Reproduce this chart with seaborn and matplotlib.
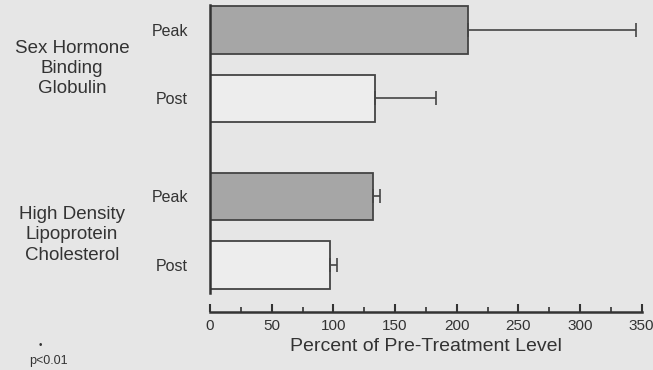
import numpy as np
import pandas as pd
import matplotlib
matplotlib.use("Agg")
import matplotlib.pyplot as plt
from matplotlib.ticker import MultipleLocator
import seaborn as sns

groups = ["Sex Hormone\nBinding\nGlobulin", "High Density\nLipoprotein\nCholesterol"]
phases = ["Peak", "Post"]
means = [209, 134, 132, 97]   # SHBG peak, SHBG post, HDL peak, HDL post
errs = [136, 49, 6, 6]

sns.set_style("ticks")
plt.rcParams["font.family"] = ["Liberation Sans", "DejaVu Sans"]

bg = "#e6e6e6"
ink = "#333333"
group_step = 2.43
pos = [g * group_step + i for g in range(len(groups)) for i in range(len(phases))]
df = pd.DataFrame({
    "pos": pos,
    "pct": means,
    "phase": phases * len(groups),
})

fig = plt.figure(figsize=(6.53, 3.70), dpi=100, facecolor=bg)
ax = fig.add_axes([0.3216, 0.2081, 0.6611, 0.7784], facecolor=bg)

sns.barplot(data=df, x="pct", y="pos", hue="phase", orient="h", native_scale=True,
            dodge=False, width=0.69, errorbar=None, legend=False,
            palette={"Peak": "#a6a6a6", "Post": "#ededed"},
            edgecolor="#444444", linewidth=1.3, ax=ax)
ax.errorbar(means, pos, xerr=[np.zeros(len(errs)), errs], fmt="none",
            ecolor="#444444", elinewidth=1.2, capsize=5, capthick=1.2)

ax.set_xlim(0, 350)
ax.set_ylim(3.84, -0.365)
ax.xaxis.set_major_locator(MultipleLocator(50))
ax.xaxis.set_minor_locator(MultipleLocator(25))
ax.tick_params(axis="x", which="major", direction="in", length=6, width=1.5,
               colors=ink, labelsize=11, pad=5)
ax.tick_params(axis="x", which="minor", direction="in", length=3.5, width=1.2, colors=ink)
ax.set_yticks(pos)
ax.set_yticklabels(phases * len(groups))
ax.tick_params(axis="y", length=0, labelsize=11.5, pad=16, colors=ink)
ax.set_xlabel("Percent of Pre-Treatment Level", fontsize=14, color=ink, labelpad=3)
ax.set_ylabel("")

for s in ["top", "right"]:
    ax.spines[s].set_visible(False)
ax.spines["left"].set_color(ink)
ax.spines["left"].set_linewidth(1.8)
ax.spines["bottom"].set_color(ink)
ax.spines["bottom"].set_linewidth(1.8)
ax.spines["bottom"].set_position(("outward", 14))

for g, name in enumerate(groups):
    yc = g * group_step + 0.56
    ax.text(-0.32, yc, name, transform=ax.get_yaxis_transform(), ha="center", va="center",
            fontsize=13.5, color=ink, linespacing=1.25)

fig.text(0.062, 0.068, "\u2022", fontsize=7, color=ink, ha="center", va="center")
fig.text(0.044, 0.024, "p<0.01", fontsize=9, color=ink, ha="left", va="center")

fig.savefig("out.png", dpi=100, facecolor=bg)
